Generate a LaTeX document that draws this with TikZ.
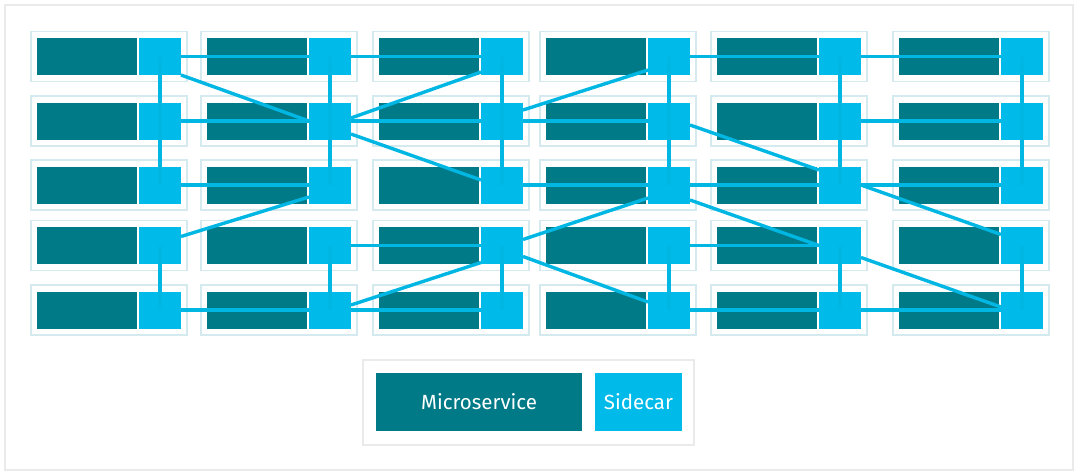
\documentclass[tikz,border=0pt]{standalone}
\usepackage{fontspec}
\setmainfont{Fira Sans}
\usetikzlibrary{calc}
\definecolor{tealms}{HTML}{007A87}
\definecolor{sidec}{HTML}{00BAE9}
\definecolor{linkc}{HTML}{00B6E3}
\definecolor{podb}{HTML}{D5EAEE}
\definecolor{framec}{HTML}{EAEAEA}
\begin{document}
\begin{tikzpicture}[x=1pt,y=-1pt,
  podbox/.style={draw=podb, line width=1.2pt, fill=white, minimum width=156pt, minimum height=50pt, inner sep=0pt, outer sep=0pt},
  micro/.style={fill=tealms, minimum width=100pt, minimum height=37pt, inner sep=0pt, outer sep=0pt},
  sidecar/.style={fill=sidec, minimum width=42pt, minimum height=37pt, inner sep=0pt, outer sep=0pt},
  link/.style={draw=linkc, line width=3.4pt},
  legtext/.style={text=white, font=\fontsize{20.5}{24}\selectfont, inner sep=0pt, outer sep=0pt}]
\useasboundingbox (0,0) rectangle (1080,475);
\draw[draw=framec, line width=1.5pt] (5,5) rectangle (1073,470);
% pods
\foreach \c/\x in {1/31,2/201,3/373,4/540,5/711,6/893}{
  \foreach \r/\y in {1/56.5,2/121,3/185,4/245.5,5/310}{
    \node[podbox] (p\c\r) at (\x+78,\y) {};
    \node[micro] (m\c\r) at (\x+56,\y) {};
    \node[sidecar] (s\c\r) at (\x+129,\y) {};
  }
}
% vertical links
\foreach \c in {1,...,6}{
  \draw[link] (s\c1.center) -- (s\c2.center) -- (s\c3.center);
  \draw[link] (s\c4.center) -- (s\c5.center);
}
% horizontal links
\draw[link] (s11.east) -- (s21.west);
\draw[link] (s21.east) -- (s31.west);
\draw[link] (s41.east) -- (s51.west);
\draw[link] (s51.east) -- (s61.west);
\draw[link] (s12.east) -- (s22.west);
\draw[link] (s22.east) -- (s32.west);
\draw[link] (s32.east) -- (s42.west);
\draw[link] (s52.east) -- (s62.west);
\draw[link] (s13.east) -- (s23.west);
\draw[link] (s33.east) -- (s43.west);
\draw[link] (s43.east) -- (s53.west);
\draw[link] (s53.east) -- (s63.west);
\draw[link] (s24.east) -- (s34.west);
\draw[link] (s44.east) -- (s54.west);
\draw[link] (s15.east) -- (s25.west);
\draw[link] (s25.east) -- (s35.west);
\draw[link] (s45.east) -- (s55.west);
\draw[link] (s55.east) -- (s65.west);
% diagonal links
\draw[link] (s11.south east) -- (s22.west);
\draw[link] ($(s31.south west)+(0,-3)$) -- ($(s22.east)+(0,-3)$);
\draw[link] ($(s41.south west)+(0,-5)$) -- ($(s32.east)+(0,-11)$);
\draw[link] ($(s22.east)+(0,13)$) -- ($(s33.west)+(0,-5)$);
\draw[link] ($(s42.east)+(0,4)$) -- ($(s53.west)+(0,-15)$);
\draw[link] ($(s14.east)+(0,-9)$) -- ($(s23.west)+(0,12)$);
\draw[link] ($(s25.east)+(0,-5)$) -- ($(s34.west)+(0,17)$);
\draw[link] ($(s34.east)+(0,-6)$) -- ($(s43.west)+(0,13)$);
\draw[link] ($(s34.east)+(0,11)$) -- ($(s45.west)+(0,-8)$);
\draw[link] ($(s43.east)+(0,15)$) -- (s54.west);
\draw[link] (s53.east) -- ($(s64.west)+(0,-11)$);
\draw[link] ($(s54.east)+(0,12)$) -- ($(s65.west)+(0,-3)$);
% legend
\node[draw=framec, line width=1.2pt, fill=white, minimum width=331pt, minimum height=85pt, inner sep=0pt] (leg) at (528.5,402.5) {};
\node[micro, minimum width=206pt, minimum height=58pt, legtext] (lm) at (479,402) {Microservice};
\node[sidecar, minimum width=87pt, minimum height=58pt, legtext] (ls) at (638.5,402) {Sidecar};
\end{tikzpicture}
\end{document}
